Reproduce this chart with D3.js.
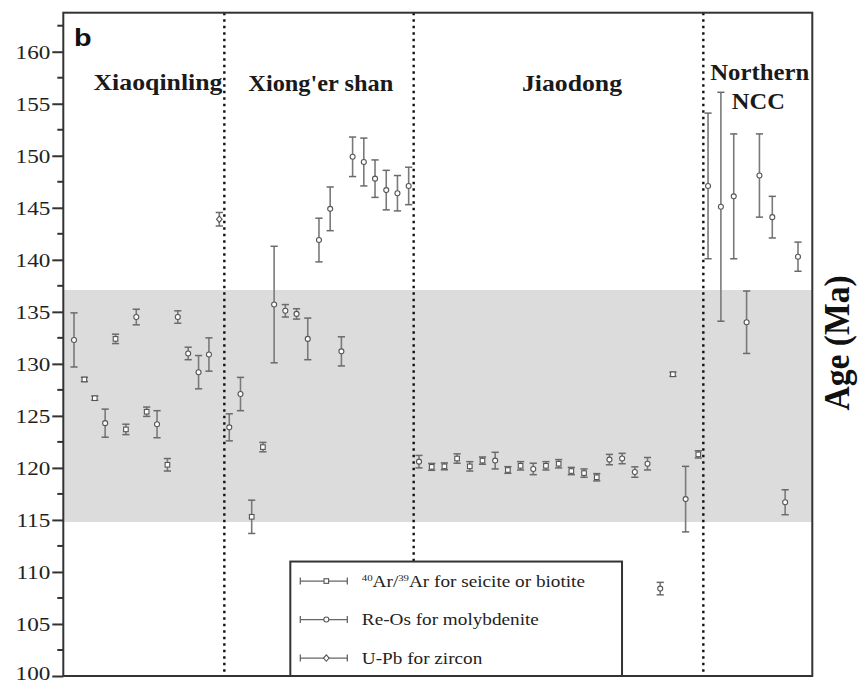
<!DOCTYPE html>
<html>
<head>
<meta charset="utf-8">
<script src="https://cdn.jsdelivr.net/npm/d3@7"></script>
<style>
  body { margin: 0; background: #fff; }
  svg { display: block; }
</style>
</head>
<body>
<div id="chart"></div>
<script>
const W = 862;
const H = 685;
const margin = { top: 12.7, right: 49.7, bottom: 9, left: 63.3 };
const width = W - margin.left - margin.right;
const height = H - margin.top - margin.bottom;

// regions
const groupNames = ["Xiaoqinling", "Xiong'er shan", "Jiaodong", "Northern NCC"];

// Xiaoqinling
const xqlAge = [132.3, 128.5, 126.7, 124.3, 132.4, 123.7, 134.5, 125.4, 124.2, 120.3, 134.5, 131.0, 129.2, 130.9, 143.9];
const xqlErr = [2.6, 0.2, 0.2, 1.35, 0.45, 0.5, 0.75, 0.45, 1.3, 0.6, 0.6, 0.6, 1.6, 1.6, 0.65];
const xqlMethod = ["Re", "Ar", "Ar", "Re", "Ar", "Ar", "Re", "Ar", "Re", "Ar", "Re", "Re", "Re", "Re", "U"];

// Xiong'er shan
const xesAge = [123.9, 127.1, 115.3, 122.0, 135.7, 135.1, 134.8, 132.4, 141.9, 144.9, 131.2, 149.9, 149.4, 147.8, 146.7, 146.4, 147.1];
const xesErr = [1.3, 1.6, 1.6, 0.45, 5.6, 0.6, 0.5, 2.0, 2.1, 2.1, 1.4, 1.9, 2.3, 1.8, 1.9, 1.7, 1.8];
const xesMethod = ["Re", "Re", "Ar", "Ar", "Re", "Re", "Re", "Re", "Re", "Re", "Re", "Re", "Re", "Re", "Re", "Re", "Re"];

// Jiaodong
const jdAge = [120.6, 120.1, 120.15, 120.9, 120.15, 120.7, 120.7, 119.8, 120.2, 119.9, 120.2, 120.4, 119.7, 119.5, 119.1, 120.8, 120.9, 119.6, 120.4, 108.4, 129.0, 117.0, 121.3];
const jdErr = [0.6, 0.33, 0.33, 0.45, 0.45, 0.35, 0.8, 0.32, 0.4, 0.55, 0.4, 0.4, 0.35, 0.4, 0.35, 0.5, 0.5, 0.5, 0.6, 0.6, 0.2, 3.15, 0.35];
const jdMethod = ["Re", "Ar", "Ar", "Ar", "Ar", "Ar", "Re", "Ar", "Ar", "Re", "Ar", "Ar", "Ar", "Ar", "Ar", "Re", "Re", "Re", "Re", "Re", "Ar", "Re", "Ar"];

// Northern NCC
const nccAge = [147.1, 145.1, 146.1, 134.0, 148.1, 144.1, 116.7, 140.3];
const nccErr = [7, 11, 6, 3, 4, 2, 1.2, 1.4];
const nccMethod = ["Re", "Re", "Re", "Re", "Re", "Re", "Re", "Re"];

const band = [114.8, 137.1];
const yTicks = d3.range(100, 161, 5);
const yMinor = d3.range(102.5, 163, 5);

const legendLabels = ["Ar for seicite or biotite", "Re-Os for molybdenite", "U-Pb for zircon"];
const legendMethods = ["Ar", "Re", "U"];

// where each region sits along the (unitless) sample axis
const groupFrom = [1.43, 22.16, 47.49, 86.08];
const groupTo = [20.83, 46.11, 84.78, 98.09];
const dividers = [21.5, 46.78, 85.45];

const groups = [
  [xqlAge, xqlErr, xqlMethod],
  [xesAge, xesErr, xesMethod],
  [jdAge, jdErr, jdMethod],
  [nccAge, nccErr, nccMethod],
];

const points = [];
groups.forEach(function (g, gi) {
  const n = g[0].length;
  const pos = d3.scaleLinear().domain([0, n - 1]).range([groupFrom[gi], groupTo[gi]]);
  g[0].forEach(function (age, i) {
    points.push({ x: pos(i), age: age, err: g[1][i], method: g[2][i] });
  });
});

const svg = d3.select("#chart").append("svg")
  .attr("width", W).attr("height", H);

const g = svg.append("g").attr("transform", `translate(${margin.left},${margin.top})`);

const x = d3.scaleLinear().domain([0, 100]).range([0, width]);
const y = d3.scaleLinear().domain([100, 163.75]).range([height, 0]);

const serif = "'Liberation Serif', 'Times New Roman', serif";
const axisColor = "#333";

function stretch(sel, k) {
  sel.each(function () {
    const w = this.getComputedTextLength();
    d3.select(this).attr("textLength", w * k).attr("lengthAdjust", "spacingAndGlyphs");
  });
}

// grey band
g.append("rect")
  .attr("x", 0).attr("width", width)
  .attr("y", y(band[1])).attr("height", y(band[0]) - y(band[1]))
  .attr("fill", "#dcdcdc");

// dotted dividers
g.selectAll("line.div").data(dividers).enter().append("line")
  .attr("class", "div")
  .attr("x1", d => x(d)).attr("x2", d => x(d))
  .attr("y1", 0).attr("y2", height)
  .attr("stroke", "#111").attr("stroke-width", 2.4)
  .attr("stroke-dasharray", "2.6,3.9");

// error bars
const marks = g.append("g");
const capW = 3.6;
const bars = marks.selectAll("g.pt").data(points).enter().append("g").attr("class", "pt");
bars.append("line")
  .attr("x1", d => x(d.x)).attr("x2", d => x(d.x))
  .attr("y1", d => y(d.age + d.err)).attr("y2", d => y(d.age - d.err))
  .attr("stroke", "#7a7a7a").attr("stroke-width", 1.6);
[1, -1].forEach(function (s) {
  bars.append("line")
    .attr("x1", d => x(d.x) - capW).attr("x2", d => x(d.x) + capW)
    .attr("y1", d => y(d.age + s * d.err)).attr("y2", d => y(d.age + s * d.err))
    .attr("stroke", "#6a6a6a").attr("stroke-width", 1.5);
});

function drawMarker(sel, method, cx, cy) {
  if (method === "Ar") {
    sel.append("rect").attr("x", cx - 2.3).attr("y", cy - 2.3).attr("width", 4.6).attr("height", 4.6)
      .attr("fill", "#fff").attr("stroke", "#555").attr("stroke-width", 1.1);
  } else if (method === "U") {
    sel.append("path").attr("d", `M${cx},${cy - 3.2}L${cx + 2.8},${cy}L${cx},${cy + 3.2}L${cx - 2.8},${cy}Z`)
      .attr("fill", "#fff").attr("stroke", "#555").attr("stroke-width", 1.1);
  } else {
    sel.append("circle").attr("cx", cx).attr("cy", cy).attr("r", 2.5)
      .attr("fill", "#fff").attr("stroke", "#555").attr("stroke-width", 1.1);
  }
}
bars.each(function (d) {
  drawMarker(d3.select(this), d.method, x(d.x), y(d.age));
});

// y axis
const yAxis = d3.axisLeft(y).tickValues(yTicks).tickSize(11).tickPadding(2).tickFormat(d3.format("d"));
const ya = g.append("g").call(yAxis);
ya.select(".domain").remove();
ya.selectAll(".tick line").attr("stroke", axisColor).attr("stroke-width", 2);
ya.selectAll(".tick text")
  .attr("fill", "#222").style("font-family", serif).style("font-size", "19px")
  .attr("dy", d => d === 100 ? "0.2em" : "0.34em");
stretch(ya.selectAll(".tick text"), 1.22);
g.selectAll("line.minor").data(yMinor).enter().append("line")
  .attr("class", "minor")
  .attr("x1", -6).attr("x2", 0)
  .attr("y1", d => y(d)).attr("y2", d => y(d))
  .attr("stroke", axisColor).attr("stroke-width", 2);

// frame
g.append("rect")
  .attr("x", 0).attr("y", 0).attr("width", width).attr("height", height)
  .attr("fill", "none").attr("stroke", axisColor).attr("stroke-width", 2);

// legend
const lg = g.append("g").attr("transform", `translate(${x(30.31)},${y(111)})`);
lg.append("rect")
  .attr("x", 0).attr("y", 0).attr("width", 331.7).attr("height", y(100) - y(111))
  .attr("fill", "#fff").attr("stroke", axisColor).attr("stroke-width", 2);
legendMethods.forEach(function (m, i) {
  const ry = 19.5 + i * 38.5;
  const row = lg.append("g");
  row.append("line").attr("x1", 10).attr("x2", 57).attr("y1", ry).attr("y2", ry)
    .attr("stroke", "#666").attr("stroke-width", 1.3);
  [10, 57].forEach(function (cx) {
    row.append("line").attr("x1", cx).attr("x2", cx).attr("y1", ry - 3.5).attr("y2", ry + 3.5)
      .attr("stroke", "#666").attr("stroke-width", 1.3);
  });
  drawMarker(row, m, 36, ry);
  const t = row.append("text")
    .attr("x", 71.5).attr("y", ry + 5.8)
    .attr("fill", "#222").style("font-family", serif).style("font-size", "16px");
  if (m === "Ar") {
    t.append("tspan").text("40").style("font-size", "9px").attr("dy", -6);
    t.append("tspan").text("Ar/").attr("dy", 6);
    t.append("tspan").text("39").style("font-size", "9px").attr("dy", -6);
    t.append("tspan").text(legendLabels[i]).attr("dy", 6);
  } else {
    t.text(legendLabels[i]);
  }
  stretch(t, 1.2);
});

// region titles
const titles = [
  { text: "Xiaoqinling", cx: 158, by: 89.5, w: 129 },
  { text: "Xiong'er shan", cx: 320.8, by: 90.5, w: 145 },
  { text: "Jiaodong", cx: 572, by: 90.5, w: 100 },
  { text: "Northern", cx: 759.7, by: 80, w: 99 },
  { text: "NCC", cx: 758.3, by: 108.5, w: 53 },
];
svg.selectAll("text.title").data(titles).enter().append("text")
  .attr("class", "title")
  .attr("x", d => d.cx).attr("y", d => d.by)
  .attr("text-anchor", "middle")
  .attr("textLength", d => d.w).attr("lengthAdjust", "spacingAndGlyphs")
  .style("font-family", serif).style("font-weight", "bold").style("font-size", "24px")
  .attr("fill", "#1a1a1a")
  .text(d => d.text);

// panel letter
const b = svg.append("text")
  .attr("x", 74).attr("y", 46)
  .style("font-family", "'Liberation Sans', Arial, sans-serif").style("font-weight", "bold").style("font-size", "24px")
  .attr("fill", "#111")
  .text("b");
stretch(b, 1.2);

// y title
svg.append("text")
  .attr("transform", "translate(849,343) rotate(-90) scale(1.2,1.25)")
  .attr("text-anchor", "middle")
  .style("font-family", serif).style("font-weight", "bold").style("font-size", "28px")
  .attr("fill", "#111")
  .text("Age (Ma)");
</script>
</body>
</html>
